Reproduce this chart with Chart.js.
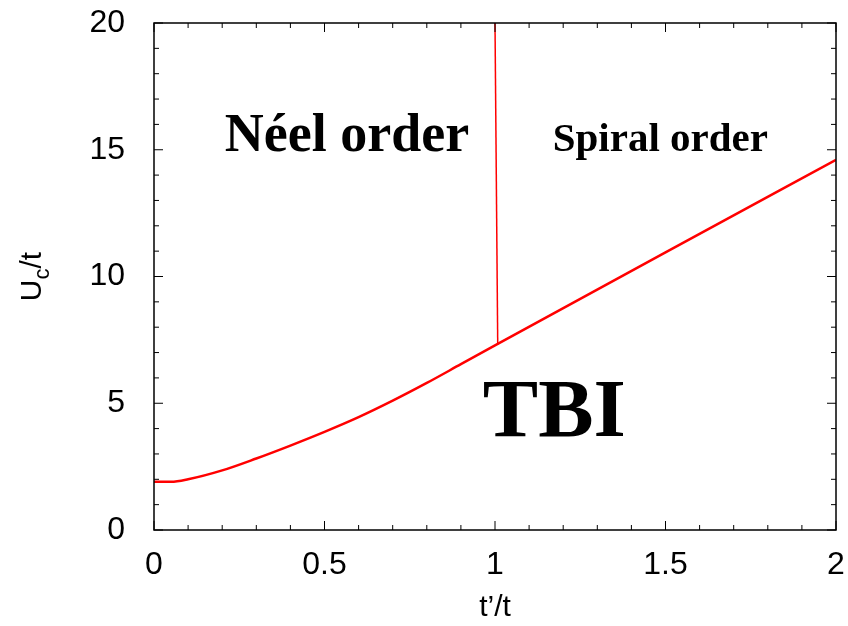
<!DOCTYPE html>
<html>
<head>
<meta charset="utf-8">
<script src="https://cdn.jsdelivr.net/npm/chart.js@4"></script>
<style>
html,body{margin:0;padding:0;background:#fff;}
#wrap{width:848px;height:626px;}
</style>
</head>
<body>
<div id="wrap"><canvas id="myChart" width="848" height="626"></canvas></div>
<script>
// boundary TBI / ordered phases
var tRatio = [0, 0.05, 0.1, 0.2, 0.3, 0.4, 0.5, 0.6, 0.7, 0.8, 0.9, 1.0, 1.5, 2.0];
var uCrit  = [1.9, 1.9, 2.0, 2.35, 2.82, 3.33, 3.87, 4.45, 5.1, 5.8, 6.54, 7.28, 10.95, 14.6];
// Neel / spiral boundary
var nsX = [1.0, 1.008];
var nsY = [20, 7.32];

var labelsTxt = [
  {text: 'Néel order', x: 0.566, y: 15.5, size: 54},
  {text: 'Spiral order', x: 1.485, y: 15.38, size: 41},
  {text: 'TBI', x: 1.174, y: 4.54, size: 83}
];

function pts(xs, ys) {
  var out = [];
  for (var i = 0; i < xs.length; i++) out.push({x: xs[i], y: ys[i]});
  return out;
}

var tickFont = {family: 'Liberation Sans', size: 32};

var framePlugin = {
  id: 'frame',
  afterDraw: function(chart) {
    var c = chart.ctx, a = chart.chartArea;
    var xs = chart.scales.x, ys = chart.scales.y;
    c.save();
    c.strokeStyle = '#000';
    c.lineWidth = 1.5;
    c.strokeRect(a.left, a.top, a.right - a.left, a.bottom - a.top);
    c.lineWidth = 1;
    // inward ticks on all four sides
    for (var i = 0; i <= 20; i++) {
      var px = xs.getPixelForValue(i / 10);
      var len = (i % 5 === 0) ? 9 : 5;
      c.beginPath();
      c.moveTo(px, a.bottom); c.lineTo(px, a.bottom - len);
      c.moveTo(px, a.top); c.lineTo(px, a.top + len);
      c.stroke();
    }
    for (var j = 0; j <= 20; j++) {
      var py = ys.getPixelForValue(j);
      var l2 = (j % 5 === 0) ? 9 : 5;
      c.beginPath();
      c.moveTo(a.left, py); c.lineTo(a.left + l2, py);
      c.moveTo(a.right, py); c.lineTo(a.right - l2, py);
      c.stroke();
    }
    // region labels
    c.fillStyle = '#000';
    c.textAlign = 'center';
    c.textBaseline = 'middle';
    labelsTxt.forEach(function(l) {
      c.font = 'bold ' + l.size + 'px "Liberation Serif"';
      c.fillText(l.text, xs.getPixelForValue(l.x), ys.getPixelForValue(l.y));
    });
    // axis titles
    c.font = '30px "Liberation Sans"';
    c.textBaseline = 'alphabetic';
    c.fillText("t’/t", (a.left + a.right) / 2, 616);
    c.save();
    c.translate(41, (a.top + a.bottom) / 2);
    c.rotate(-Math.PI / 2);
    c.textAlign = 'left';
    var w1 = c.measureText('U').width;
    c.font = '22px "Liberation Sans"';
    var w2 = c.measureText('c').width;
    c.font = '30px "Liberation Sans"';
    var w3 = c.measureText('/t').width;
    var x0 = -(w1 + w2 + w3) / 2;
    c.fillText('U', x0, 0);
    c.font = '22px "Liberation Sans"';
    c.fillText('c', x0 + w1, 8);
    c.font = '30px "Liberation Sans"';
    c.fillText('/t', x0 + w1 + w2, 0);
    c.restore();
    c.restore();
  }
};

var ctx = document.getElementById('myChart').getContext('2d');
var myChart = new Chart(ctx, {
  type: 'line',
  data: {
    datasets: [
      {
        data: pts(tRatio, uCrit),
        borderColor: '#ff0000',
        borderWidth: 2.5,
        pointRadius: 0,
        fill: false,
        cubicInterpolationMode: 'monotone'
      },
      {
        data: pts(nsX, nsY),
        borderColor: '#ff0000',
        borderWidth: 1.5,
        pointRadius: 0,
        fill: false
      }
    ]
  },
  options: {
    responsive: false,
    maintainAspectRatio: false,
    animation: false,
    layout: {padding: {top: 23, right: 12, left: 0, bottom: 0}},
    plugins: {legend: {display: false}, tooltip: {enabled: false}},
    scales: {
      x: {
        type: 'linear', min: 0, max: 2,
        grid: {display: false},
        border: {display: false},
        afterFit: function(s) { s.height = 96; s.paddingLeft = 0; s.paddingRight = 0; },
        ticks: {
          stepSize: 0.5, padding: 8, color: '#000', font: tickFont,
          maxRotation: 0,
          callback: function(v) { return String(Math.round(v * 10) / 10); }
        }
      },
      y: {
        type: 'linear', min: 0, max: 20,
        grid: {display: false},
        border: {display: false},
        afterFit: function(s) { s.width = 154; s.paddingTop = 0; s.paddingBottom = 0; },
        ticks: {
          stepSize: 5, padding: 21, color: '#000', font: tickFont
        }
      }
    }
  },
  plugins: [framePlugin]
});
</script>
</body>
</html>
